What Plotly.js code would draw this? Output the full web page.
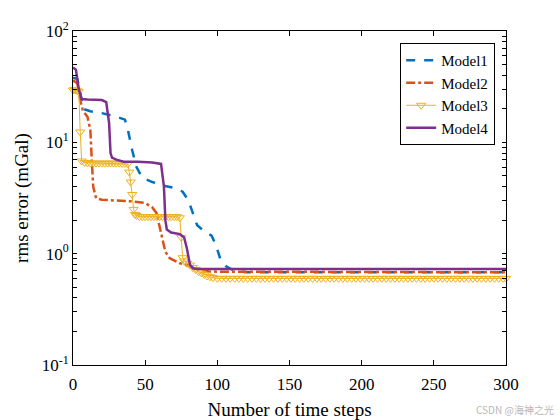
<!DOCTYPE html>
<html>
<head>
<meta charset="utf-8">
<script src="https://cdn.plot.ly/plotly-3.0.1.min.js"></script>
<style>
  html, body { margin: 0; padding: 0; background: #fff; }
  #chart { width: 560px; height: 420px; }
</style>
</head>
<body>
<div id="chart"></div>
<script>
// rms error vs time steps — four models, log y axis.

const m1Steps = [0, 3, 5, 7, 12, 20, 30, 36, 38, 41, 44, 48, 55, 62, 70, 76, 80, 83, 86, 90, 96, 99, 102, 106, 112, 120, 300];
const m1Err   = [38, 37, 28, 20, 19, 18.3, 17, 16, 13, 8.5, 6, 4.8, 4.4, 4.1, 3.9, 3.6, 3.0, 2.3, 1.8, 1.63, 1.45, 1.2, 0.9, 0.77, 0.7, 0.68, 0.68];

const m2Steps = [0, 3, 5, 7, 10, 12, 13, 14, 16, 20, 40, 50, 55, 58, 60, 62, 64, 67, 74, 80, 88, 95, 300];
const m2Err   = [36, 34, 24, 19, 17, 13, 7, 4, 3.15, 3.05, 2.95, 2.85, 2.6, 2.3, 1.75, 1.3, 1.04, 0.91, 0.82, 0.78, 0.72, 0.69, 0.68];

const m3Steps = [0, 1, 2, 3, 4, 5, 6, 8, 10, 12, 14, 16, 18, 20, 22, 24, 26, 28, 30, 32, 34, 36, 38,
  39, 40, 41, 42, 43, 44, 46, 48, 50, 52, 54, 56, 58, 60, 62, 64, 66, 68, 70, 72, 74,
  75, 76, 77, 79, 81, 83, 85, 87, 89, 91, 93, 95, 97,
  100, 103, 106, 109, 112, 115, 118, 121, 124, 127, 130, 133, 136, 139, 142, 145, 148, 151, 154, 157,
  160, 163, 166, 169, 172, 175, 178, 181, 184, 187, 190, 193, 196, 199, 202, 205, 208, 211, 214, 217,
  220, 223, 226, 229, 232, 235, 238, 241, 244, 247, 250, 253, 256, 259, 262, 265, 268, 271, 274, 277,
  280, 283, 286, 289, 292, 295, 298, 300];
const m3Err = [29.5, 29.8, 29.5, 29, 28.5, 12.4, 6.8, 6.6, 6.55, 6.5, 6.5, 6.5, 6.5, 6.5, 6.5, 6.5, 6.5, 6.5, 6.5, 6.5, 6.45, 6.45, 6.4,
  5.4, 4.4, 3.4, 2.5, 2.25, 2.2, 2.15, 2.15, 2.15, 2.15, 2.15, 2.15, 2.15, 2.15, 2.15, 2.15, 2.15, 2.15, 2.15, 2.15, 2.1,
  1.4, 0.92, 0.86, 0.82, 0.79, 0.75, 0.72, 0.69, 0.67, 0.65, 0.63, 0.62, 0.61,
  0.6, 0.6, 0.6, 0.6, 0.6, 0.6, 0.6, 0.6, 0.6, 0.6, 0.6, 0.6, 0.6, 0.6, 0.6, 0.6, 0.6, 0.6, 0.6, 0.6,
  0.6, 0.6, 0.6, 0.6, 0.6, 0.6, 0.6, 0.6, 0.6, 0.6, 0.6, 0.6, 0.6, 0.6, 0.6, 0.6, 0.6, 0.6, 0.6, 0.6,
  0.6, 0.6, 0.6, 0.6, 0.6, 0.6, 0.6, 0.6, 0.6, 0.6, 0.6, 0.6, 0.6, 0.6, 0.6, 0.6, 0.6, 0.6, 0.6, 0.6,
  0.6, 0.6, 0.6, 0.6, 0.6, 0.6, 0.6, 0.6];

const m4Steps = [0, 2, 4, 6, 10, 20, 23, 25, 26, 27, 30, 35, 45, 55, 61, 63, 64, 65, 68, 74, 77, 79, 81, 83, 86, 300];
const m4Err   = [47, 45, 30, 24.5, 24.3, 24, 23, 15, 8, 7.3, 7, 6.7, 6.7, 6.6, 6.4, 4, 2, 1.65, 1.55, 1.5, 1.4, 1.1, 0.8, 0.74, 0.73, 0.73];

const xTicks = [0, 50, 100, 150, 200, 250, 300];
// decades labelled, the in-between values get an empty label (minor ticks)
const yTicks = [0.1, 0.2, 0.3, 0.4, 0.5, 0.6, 0.7, 0.8, 0.9,
  1, 2, 3, 4, 5, 6, 7, 8, 9, 10, 20, 30, 40, 50, 60, 70, 80, 90, 100];
const yTickText = ["10<sup>-1</sup>", "", "", "", "", "", "", "", "",
  "10<sup>0</sup>", "", "", "", "", "", "", "", "",
  "10<sup>1</sup>", "", "", "", "", "", "", "", "", "10<sup>2</sup>"];

const serif = "Liberation Serif, Times New Roman, serif";

const traces = [
  { x: m1Steps, y: m1Err, name: "Model1", mode: "lines",
    line: { color: "#0072BD", width: 2.5, dash: "dash" } },
  { x: m2Steps, y: m2Err, name: "Model2", mode: "lines",
    line: { color: "#D95319", width: 2.5, dash: "dashdot" } },
  { x: m3Steps, y: m3Err, name: "Model3", mode: "lines+markers", cliponaxis: false,
    line: { color: "#EDB120", width: 1 },
    marker: { symbol: "triangle-down-open", size: 8, color: "#EDB120", line: { width: 1 } } },
  { x: m4Steps, y: m4Err, name: "Model4", mode: "lines",
    line: { color: "#7E2F8E", width: 2.5 } },
];

const axisCommon = {
  showline: true, linecolor: "#000", linewidth: 1, mirror: "ticks",
  ticks: "inside", ticklen: 4, tickcolor: "#000",
  showgrid: false, zeroline: false,
  tickfont: { family: serif, size: 17, color: "#000" },
};

const layout = {
  width: 560, height: 420,
  margin: { l: 73, r: 54, t: 31, b: 55 },
  paper_bgcolor: "#fff", plot_bgcolor: "#fff",
  font: { family: serif, color: "#000" },
  xaxis: Object.assign({}, axisCommon, {
    range: [0, 300], tickvals: xTicks, ticktext: xTicks.map(String),
    ticklen: 5, ticklabelstandoff: 4,
    title: { text: "Number of time steps", font: { family: serif, size: 19 }, standoff: 9 },
  }),
  yaxis: Object.assign({}, axisCommon, {
    type: "log", range: [-1, 2], tickvals: yTicks, ticktext: yTickText,
    title: { text: "rms error (mGal)", font: { family: serif, size: 19 }, standoff: 8 },
  }),
  legend: {
    x: 0.975, y: 0.964, xanchor: "right", yanchor: "top",
    bgcolor: "#fff", bordercolor: "#000", borderwidth: 1,
    font: { family: serif, size: 15, color: "#000" },
    tracegroupgap: 0,
  },
  showlegend: true,
  annotations: [{
    text: "CSDN @海神之光", xref: "paper", yref: "paper",
    x: 1.115, y: -0.132, xanchor: "right", yanchor: "middle", showarrow: false,
    font: { family: "Noto Sans CJK SC, Noto Sans, sans-serif", size: 10, color: "#b8b8b8" },
  }],
};

Plotly.newPlot("chart", traces, layout, { displayModeBar: false, staticPlot: true });
</script>
</body>
</html>
